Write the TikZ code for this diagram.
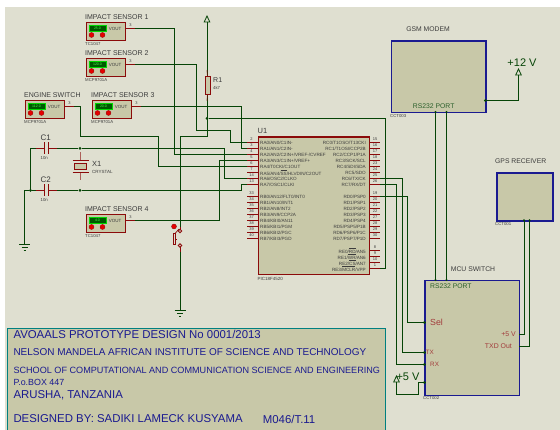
\documentclass[tikz,border=0pt]{standalone}
\usepackage{fontspec}
\setmainfont{Liberation Sans}
\definecolor{sheet}{HTML}{DFDFD0}
\definecolor{bodyfill}{HTML}{C8C8A8}
\definecolor{wirecol}{HTML}{064406}
\definecolor{pincol}{HTML}{8B0A0A}
\definecolor{modcol}{HTML}{1A1A90}
\definecolor{txtcol}{HTML}{3C3C3C}
\newcommand{\ovl}[1]{$\overline{\mbox{#1}}$}
\newcommand{\fsz}[1]{\fontsize{#1}{#1}\selectfont}
\tikzset{
  wire/.style={draw=wirecol,line width=1pt},
  pinline/.style={draw=pincol,line width=0.9pt},
  dot/.style={circle,fill=wirecol,inner sep=0pt,minimum size=3pt},
  lbl/.style={anchor=west,inner sep=0pt,text=txtcol},
  rlbl/.style={anchor=east,inner sep=0pt,text=txtcol},
  clbl/.style={inner sep=0pt,text=txtcol},
  sensorbox/.style={draw=pincol,fill=bodyfill,line width=1pt,anchor=north west,minimum width=39pt,minimum height=18pt,inner sep=0pt},
  lcd/.style={draw=green!85!black,fill=green!35!black,line width=0.9pt,anchor=north west,minimum width=17pt,minimum height=6.5pt,inner sep=0pt,text=green!70!white,font=\fsz{3.5}},
  reddot/.style={circle,fill=red!90!black,draw=pincol,line width=0.3pt,inner sep=0pt,minimum size=5pt},
  modbox/.style={draw=modcol,fill=bodyfill,line width=1.3pt,anchor=north west,inner sep=0pt},
  pinball/.style={circle,draw=pincol,fill=sheet,line width=0.8pt,inner sep=0pt,minimum size=3.4pt},
  gnd/.pic={\draw[wire] (-5.5,0) -- (5.5,0) (-3,3) -- (3,3) (-1,6) -- (1,6);},
  pwr/.pic={\draw[wire,line width=0.8pt] (0,0) -- (-2.8,0) -- (0,-6) -- (2.8,0) -- (0,0);}
}
\begin{document}
\begin{tikzpicture}[x=1pt,y=-1pt]
\useasboundingbox (0,0) rectangle (560,430);
\fill[sheet] (5,7) rectangle (560,430);
% Pins of U1
\foreach \n/\y in {2/142.5,3/148.5,4/154.5,5/160.5,6/166.5,7/172.5,14/178.5,13/184.5,33/196.5,34/202.5,35/208.5,36/214.5,37/220.5,38/226.5,39/232.5,40/238.5}
  \coordinate (L\n) at (247,\y);
\foreach \n/\y in {15/142.5,16/148.5,17/154.5,18/160.5,23/166.5,24/172.5,25/178.5,26/184.5,19/196.5,20/202.5,21/208.5,22/214.5,27/220.5,28/226.5,29/232.5,30/238.5,8/250.5,9/256.5,10/262.5,1/268.5}
  \coordinate (R\n) at (380,\y);
% Sensors
\foreach \s/\x/\y/\val/\title/\part in {1/85.5/22.5/25.0/IMPACT SENSOR 1/TC1047,2/85.5/58.5/120.0/IMPACT SENSOR 2/MCP9701A,3/91.5/100.5/20.0/IMPACT SENSOR 3/MCP9701A,4/85.5/214.5/4.0/IMPACT SENSOR 4/TC1047,5/24.5/100.5/112.0/ENGINE SWITCH/MCP9701A}{
  \coordinate (V\s) at (\x+49.5,\y+6);
  \draw[pinline] (\x+39,\y+6) -- (V\s);
  \node[sensorbox] (S\s) at (\x,\y) {};
  \node[lcd] (D\s) at (\x+3,\y+2.5) {\val};
  \node[reddot] (Da\s) at (\x+6,\y+12.5) {};
  \node[reddot] (Db\s) at (\x+17,\y+12.5) {};
  \node[clbl,font=\fsz{4.5}] (O\s) at (\x+29.5,\y+6) {VOUT};
  \node[clbl,font=\fsz{4}] (N\s) at (\x+45,\y+3) {3};
  \node[lbl,font=\fsz{7}] (T\s) at (\x-0.5,\y-5) {\title};
  \node[lbl,font=\fsz{4.3}] (M\s) at (\x-0.5,\y+21.5) {\part};
}
% Power rail and reset
\pic at (207,22) {pwr};
\coordinate (Vcc) at (207,22);
\coordinate (Rb) at (207,136.5);
\node[dot] (J1) at (207,118.5) {};
\coordinate (SwT) at (180,231);
\coordinate (SwB) at (180,245.5);
\coordinate (G2) at (180,310.5);
\draw[wire] (Vcc) -- (Rb) -- (180,136.5) -- (SwT);
\draw[wire] (SwB) -- (G2);
\pic at (G2) {gnd};
\draw[wire] (J1) -- (385.5,118.5) -- (385.5,268.5) -- (R1);
% Sensor wires
\draw[wire] (V1) -- (174.5,28.5) -- (174.5,154.5) -- (L4);
\draw[wire] (V2) -- (196,64.5) -- (196,130.5) -- (230,130.5) -- (230,142.5) -- (L2);
\draw[wire] (V3) -- (241.5,106.5) -- (241.5,148.5) -- (L3);
\draw[wire] (V4) -- (219,220.5) -- (219,160.5) -- (L5);
\draw[wire] (V5) -- (80,106.5) -- (80,136.5) -- (158,136.5) -- (158,166.5) -- (L6);
% Crystal part
\coordinate (Ca) at (36,148.5);
\coordinate (Cb) at (36,190.5);
\coordinate (Cc) at (57,148.5);
\coordinate (Cd) at (57,190.5);
\coordinate (G1) at (24.5,244.5);
\node[dot] (J2) at (30.5,190.5) {};
\node[dot] (J3) at (80,148.5) {};
\node[dot] (J4) at (80,190.5) {};
\draw[wire] (Cc) -- (J3) -- (224.5,148.5) -- (224.5,178.5) -- (L14);
\draw[wire] (Cd) -- (J4) -- (241.5,190.5) -- (241.5,184.5) -- (L13);
\draw[wire] (Ca) -- (30.5,148.5) -- (J2) -- (Cb);
\draw[wire] (J2) -- (24.5,190.5) -- (G1);
\pic at (G1) {gnd};
\foreach \c/\y/\v in {C1/148.5/Ca,C2/190.5/Cb}{
  \draw[pinline] (36,\y) -- (44.7,\y) (44.7,\y-6) -- (44.7,\y+6) (48.7,\y-6) -- (48.7,\y+6) (48.7,\y) -- (57,\y);
  \node[lbl,font=\fsz{8}] (N\c) at (40.5,\y-11) {\c};
  \node[lbl,font=\fsz{4.3}] (V\c) at (40.5,\y+10) {10n};
}
\draw[pinline,draw opacity=0.6] (80,152) -- (80,160.5) (80,172.5) -- (80,180);
\draw[pinline] (72.5,160.5) -- (88.5,160.5) (72.5,172.5) -- (88.5,172.5);
\node[draw=pincol,fill=bodyfill,line width=0.9pt,inner sep=0pt,minimum width=12pt,minimum height=6pt] (X1) at (80,166.5) {};
\node[lbl,font=\fsz{7.5}] (NX) at (92,164) {X1};
\node[lbl,font=\fsz{4.5}] (VX) at (92,172) {CRYSTAL};
% R1
\node[draw=pincol,fill=bodyfill,line width=0.9pt,inner sep=0pt,minimum width=5pt,minimum height=18.5pt] (R) at (207.5,85.5) {};
\draw[pinline,draw opacity=0.6] (207,70) -- (R.north) (R.south) -- (207,101);
\node[lbl,font=\fsz{7}] (NR) at (213,80) {R1};
\node[lbl,font=\fsz{4.3}] (VR) at (213,88) {4k7};
% Switch
\draw[pinline] (180,227) -- (SwT) (SwB) -- (180,252);
\draw[pinline,line width=0.7pt] (177,239) -- (175.5,239) (173.5,233) rectangle (175.5,244);
\draw[pinline,line width=0.7pt] (175.5,233) -- (179,229);
\node[pinball] (B1) at (SwT) {};
\node[pinball] (B2) at (SwB) {};
\node[reddot] (B3) at (174,226.5) {};
% U1
\foreach \n/\y in {2/142.5,3/148.5,4/154.5,5/160.5,6/166.5,7/172.5,14/178.5,13/184.5,33/196.5,34/202.5,35/208.5,36/214.5,37/220.5,38/226.5,39/232.5,40/238.5}{
  \draw[pinline] (L\n) -- (258,\y);
  \node[clbl,font=\fsz{4}] (LN\n) at (251.5,\y-3) {\n};
}
\foreach \n/\y in {15/142.5,16/148.5,17/154.5,18/160.5,23/166.5,24/172.5,25/178.5,26/184.5,19/196.5,20/202.5,21/208.5,22/214.5,27/220.5,28/226.5,29/232.5,30/238.5,8/250.5,9/256.5,10/262.5,1/268.5}{
  \draw[pinline] (368,\y) -- (R\n);
  \node[clbl,font=\fsz{4}] (RN\n) at (375,\y-3) {\n};
}
\node[draw=pincol,fill=bodyfill,line width=1.1pt,anchor=north west,inner sep=0pt,minimum width=111pt,minimum height=137.5pt] (U1) at (257.5,136.5) {};
\node[lbl,font=\fsz{7.5}] (NU) at (257.5,131) {U1};
\node[lbl,font=\fsz{4.5}] (PU) at (257.5,278.5) {PIC18F4520};
\foreach \y/\t in {142.5/{RA0/AN0/C1IN-},148.5/{RA1/AN1/C2IN-},154.5/{RA2/AN2/C2IN+/VREF-/CVREF},160.5/{RA3/AN3/C1IN+/VREF+},166.5/{RA4/T0CKI/C1OUT},172.5/{RA5/AN4/\ovl{SS}/HLVDIN/C2OUT},178.5/{RA6/OSC2/CLKO},184.5/{RA7/OSC1/CLKI},196.5/{RB0/AN12/FLT0/INT0},202.5/{RB1/AN10/INT1},208.5/{RB2/AN8/INT2},214.5/{RB3/AN9/CCP2A},220.5/{RB4/KBI0/AN11},226.5/{RB5/KBI1/PGM},232.5/{RB6/KBI2/PGC},238.5/{RB7/KBI3/PGD}}
  \node[lbl,font=\fsz{4.6}] at (260,\y) {\t};
\foreach \y/\t in {142.5/{RC0/T1OSO/T13CKI},148.5/{RC1/T1OSI/CCP2B},154.5/{RC2/CCP1/P1A},160.5/{RC3/SCK/SCL},166.5/{RC4/SDI/SDA},172.5/{RC5/SDO},178.5/{RC6/TX/CK},184.5/{RC7/RX/DT},196.5/{RD0/PSP0},202.5/{RD1/PSP1},208.5/{RD2/PSP2},214.5/{RD3/PSP3},220.5/{RD4/PSP4},226.5/{RD5/PSP5/P1B},232.5/{RD6/PSP6/P1C},238.5/{RD7/PSP7/P1D},250.5/{RE0/\ovl{RD}/AN5},256.5/{RE1/\ovl{WR}/AN6},262.5/{RE2/\ovl{CS}/AN7},268.5/{RE3/\ovl{MCLR}/VPP}}
  \node[rlbl,font=\fsz{4.6}] at (366,\y) {\t};
% GSM modem
\node[modbox,minimum width=94.5pt,minimum height=71.5pt] (GSM) at (390.7,40.5) {};
\node[clbl,font=\fsz{6.8}] (TG) at (428,29) {GSM MODEM};
\node[clbl,font=\fsz{6.8},text=wirecol!85!white] (PG) at (433.7,106) {RS232 PORT};
\node[lbl,font=\fsz{4.3}] (MG) at (390,116) {CCT003};
\node[dot] (J5) at (485.3,100.5) {};
\coordinate (V12) at (518.5,75);
\draw[wire] (J5) -- (518.5,100.5) -- (V12);
\pic at (V12) {pwr};
\node[clbl,font=\fsz{11},text=wirecol] (T12) at (522,63) {+12 V};
% GPS receiver
\node[modbox,minimum width=56pt,minimum height=48pt] (GPS) at (496.3,172.3) {};
\node[clbl,font=\fsz{6.8}] (TP) at (520.7,161) {GPS RECEIVER};
\node[lbl,font=\fsz{4.3}] (MP) at (495,224) {CCT001};
% MCU switch
\node[modbox,minimum width=94.4pt,minimum height=114.7pt] (MCU) at (424.3,280) {};
\node[clbl,font=\fsz{6.8}] (TM) at (473,269.3) {MCU SWITCH};
\node[lbl,font=\fsz{6.8},text=wirecol!85!white] (PM) at (430,286.5) {RS232 PORT};
\node[lbl,font=\fsz{4.3}] (MM) at (423,398) {CCT002};
\node[lbl,font=\fsz{8.8},text=pincol!80!white] (PSel) at (430,322.5) {Sel};
\node[lbl,font=\fsz{6.3},text=pincol!80!white] (PTx) at (425.5,352.5) {TX};
\node[lbl,font=\fsz{6.3},text=pincol!80!white] (PRx) at (430,364.5) {RX};
\node[rlbl,font=\fsz{6.9},text=pincol!80!white] (PV) at (516,334.5) {+5 V};
\node[rlbl,font=\fsz{6.9},text=pincol!80!white] (PTxd) at (512,346.5) {TXD Out};
% Links to MCU switch
\draw[wire] (435.5,112) -- (435.5,280);
\draw[wire] (446.5,112) -- (446.5,280);
\foreach \x in {435.5,446.5}{
  \fill[wirecol] (\x,112) circle (1.2pt) (\x,280) circle (1.2pt);
}
\draw[wire] (524,220.3) -- (524,334.5) -- (518.7,334.5);
\draw[wire] (529.5,220.3) -- (529.5,346.5) -- (518.7,346.5);
\fill[wirecol] (524,220.3) circle (1.2pt) (529.5,220.3) circle (1.2pt);
\node[dot] (JSel) at (424.3,322.5) {};
\node[dot] (JTx) at (424.3,352.5) {};
\node[dot] (JRx) at (424.3,364.5) {};
\node[dot] (JV) at (424.3,382.5) {};
\draw[wire] (R19) -- (407.5,196.5) -- (407.5,322.5) -- (JSel);
\draw[wire] (R25) -- (402,178.5) -- (402,352.5) -- (JTx);
\draw[wire] (R26) -- (396.5,184.5) -- (396.5,364.5) -- (JRx);
\coordinate (V5v) at (396.5,382);
\draw[wire] (JV) -- (418.5,382.5) -- (418.5,394.5) -- (396.5,394.5) -- (V5v);
\pic at (V5v) {pwr};
\node[clbl,font=\fsz{11},text=wirecol] (T5) at (408,376.7) {+5 V};
% Title block
\path[fill=bodyfill] (7.5,328.5) rectangle (385,430);
\draw[draw=teal,line width=0.8pt] (7.5,430) -- (7.5,328.5) -- (385,328.5) -- (385,430);
\foreach \y/\s/\t in {334.7/11.4/{AVOAALS PROTOTYPE DESIGN No 0001/2013},352/9.97/{NELSON MANDELA AFRICAN INSTITUTE OF SCIENCE AND TECHNOLOGY},370.5/9.1/{SCHOOL OF COMPUTATIONAL AND COMMUNICATION SCIENCE AND ENGINEERING},382.5/8.9/{P.o.BOX 447},395/11.4/{ARUSHA, TANZANIA},419/11.4/{DESIGNED BY: SADIKI LAMECK KUSYAMA}}
  \node[lbl,text=modcol,font=\fsz{\s}] at (13.3,\y) {\t};
\node[lbl,text=modcol,font=\fsz{11.4}] (TId) at (262.7,419) {M046/T.11};
\end{tikzpicture}
\end{document}
